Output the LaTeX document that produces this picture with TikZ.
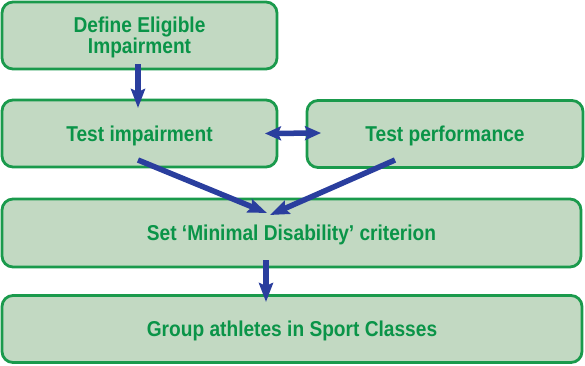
\documentclass[tikz,border=0pt]{standalone}
\usepackage{fontspec}
\setmainfont{Liberation Sans}[FakeStretch=0.89]
\usetikzlibrary{arrows.meta,calc}
\definecolor{boxfill}{HTML}{C2D9C2}
\definecolor{boxline}{HTML}{1A9A4C}
\definecolor{boxtext}{HTML}{0A9448}
\definecolor{arrowblue}{HTML}{2A3E9E}
\begin{document}
\begin{tikzpicture}[x=1pt,y=-1pt,
  box/.style={draw=boxline, fill=boxfill, line width=2.8pt, rounded corners=11pt,
    inner sep=0pt, outer sep=0pt, align=center, text=boxtext,
    text height=15.4pt, text depth=0pt,
    font=\fontsize{21.5}{21.3}\selectfont\bfseries},
  flow/.style={draw=arrowblue, line width=5.5pt,
    -{Stealth[length=19pt,width=14pt,inset=3pt]}},
  flowboth/.style={draw=arrowblue, line width=5.5pt,
    {Stealth[length=16pt,width=14pt,inset=3pt]}-{Stealth[length=16pt,width=14pt,inset=3pt]}}]
\useasboundingbox (0,0) rectangle (585,365);
\node[box, minimum width=275pt, minimum height=67pt, text height=36.7pt] (b1) at (139.5,35.5) {Define Eligible\\Impairment};
\node[box, minimum width=275pt, minimum height=67pt] (b2) at (139.5,133.5) {Test impairment};
\node[box, minimum width=276pt, minimum height=67pt] (b3) at (445,134) {Test performance};
\node[box, minimum width=579pt, minimum height=68pt] (b4) at (291.5,233) {Set ‘Minimal Disability’ criterion};
\node[box, minimum width=580pt, minimum height=67pt] (b5) at (292,329) {Group athletes in Sport Classes};
\draw[flow] ($(b1.south)+(-1.5,-5)$) -- ($(b2.north)+(-1.5,8)$);
\draw[flowboth] ($(b2.east)+(-12,0)$) -- ($(b3.west)+(14,-1)$);
\draw[flow] ($(b2.south)+(-1.5,-7)$) -- ($(b4.north)+(-24.5,14)$);
\draw[flow] ($(b3.south)+(-50,-7.5)$) -- ($(b4.north)+(-21.5,16)$);
\draw[flow] ($(b4.south)+(-25.5,-7)$) -- ($(b5.north)+(-26,6.5)$);
\end{tikzpicture}
\end{document}
